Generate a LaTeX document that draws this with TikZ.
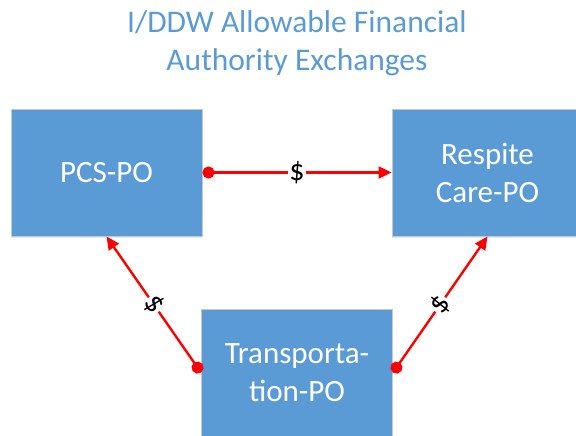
\documentclass[tikz,border=0pt]{standalone}
\usepackage{fontspec}
\setmainfont{Carlito}
\usetikzlibrary{arrows.meta,shadows}
\definecolor{boxblue}{HTML}{5B9BD5}
\definecolor{titleblue}{HTML}{5B9BD5}
\begin{document}
\begin{tikzpicture}[x=1pt,y=1pt,
  pobox/.style={draw=black!22,line width=1pt,fill=boxblue,minimum width=191pt,minimum height=127pt,
    inner sep=0pt,align=center,text=white,font=\fontsize{31}{38}\selectfont,
    drop shadow={shadow xshift=0pt,shadow yshift=-2pt,opacity=0.15}},
  flow/.style={draw=red,line width=2.4pt,{Circle[length=12pt,width=12pt]}-{Triangle[length=13pt,width=12pt]}},
  money/.style={fill=white,inner sep=1pt,text=black,font=\fontsize{30}{30}\selectfont}]
\clip (0,0) rectangle (576,-436);
\node[text=titleblue,align=center,font=\fontsize{31.5}{38}\selectfont] (title) at (297,-43) {I/DDW Allowable Financial\\Authority Exchanges};
\node[pobox] (pcs) at (106.5,-172.5) {PCS-PO};
\node[pobox] (resp) at (487.5,-172.5) {Respite\\Care-PO};
\node[pobox] (trans) at (297,-372.5) {Transporta-\\tion-PO};
\draw[flow] (pcs.east) -- node[money] {\$} (resp.west);
\draw[flow] (trans.west) -- node[money,sloped] {\$} (pcs.south);
\draw[flow] (trans.east) -- node[money,sloped] {\$} (resp.south);
\end{tikzpicture}
\end{document}
